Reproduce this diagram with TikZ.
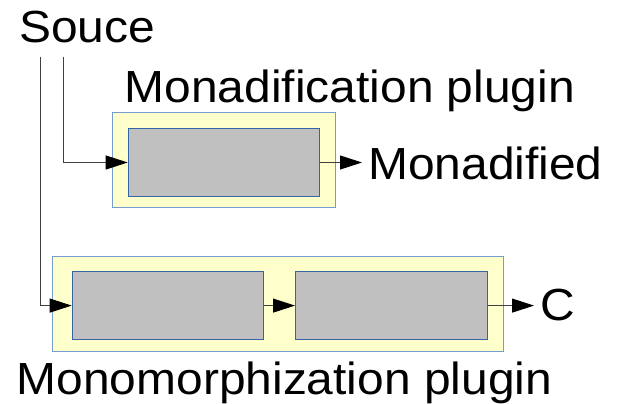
\documentclass[tikz,border=0pt]{standalone}
\usepackage{fontspec}
\setmainfont{Liberation Sans}
\usetikzlibrary{arrows.meta}
\definecolor{outerfill}{HTML}{FFFFCC}
\definecolor{outerline}{HTML}{729FCF}
\definecolor{innerfill}{HTML}{C0C0C0}
\definecolor{innerline}{HTML}{3465A4}
\definecolor{wire}{HTML}{404040}
\newcommand{\wtxt}[1]{\scalebox{1.065}[1]{#1}}
\begin{document}
\begin{tikzpicture}[x=1pt,y=1pt,
  outerbox/.style={draw=outerline, fill=outerfill, line width=0.9pt, inner sep=0pt, anchor=south west, minimum width=#1, minimum height=95pt},
  innerbox/.style={draw=innerline, fill=innerfill, line width=0.9pt, inner sep=0pt, anchor=south west, minimum width=191.6pt, minimum height=67.5pt},
  lbl/.style={inner sep=0pt, anchor=base west, font=\fontsize{45}{50}\selectfont},
  outlbl/.style={inner xsep=6pt, inner ysep=0pt, anchor=base west, font=\fontsize{45}{50}\selectfont},
  conn/.style={draw=wire, line width=0.9pt, -{Triangle[length=22pt,width=14pt,black]}}]
\useasboundingbox (0,0) rectangle (619,404);
% texts
\node[lbl] (souce) at (19,361.5) {\wtxt{Souce}};
\node[lbl] (monadplug) at (124.5,301) {\wtxt{Monadification plugin}};
\node[lbl] (monoplug) at (16.5,9) {\wtxt{Monomorphization plugin}};
% monadification plugin
\node[outerbox=223.3pt] (outA) at (111.7,195.7) {};
\node[innerbox] (inA) at (127.7,207.3) {};
% monomorphization plugin
\node[outerbox=451pt] (outB) at (51.7,52.3) {};
\node[innerbox] (inB1) at (71.7,64.2) {};
\node[innerbox] (inB2) at (295,64.2) {};
% outputs
\node[outlbl] (monadified) at (362,224) {\wtxt{Monadified}};
\node[outlbl] (cout) at (534,83) {\wtxt{C}};
% connectors
\coordinate (s1) at (40,347);
\coordinate (s2) at (63.3,347);
\draw[conn] (s2) |- (inA.west);
\draw[conn] (s1) |- (inB1.west);
\draw[conn] (inA.east) -- (inA.east -| monadified.west);
\draw[conn] (inB1.east) -- (inB2.west);
\draw[conn] (inB2.east) -- (inB2.east -| cout.west);
\end{tikzpicture}
\end{document}
